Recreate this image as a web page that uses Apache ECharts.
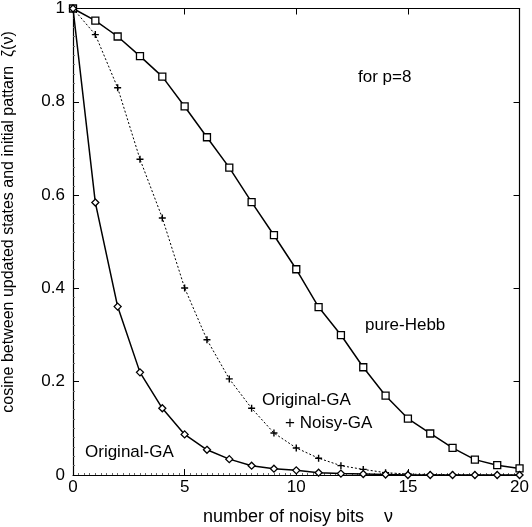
<!DOCTYPE html>
<html><head><meta charset="utf-8">
<script src="https://cdn.jsdelivr.net/npm/echarts@6/dist/echarts.min.js"></script>
<style>html,body{margin:0;padding:0;background:#fff}#c{width:532px;height:527px}</style>
</head><body><div id="c"></div>
<script>
const noisyBits = [0,1,2,3,4,5,6,7,8,9,10,11,12,13,14,15,16,17,18,19,20];
const pureHebb = [1,0.974,0.940,0.898,0.854,0.790,0.724,0.659,0.585,0.514,0.441,0.360,0.300,0.231,0.170,0.121,0.089,0.058,0.033,0.021,0.014];
const noisyGA = [1,0.944,0.830,0.677,0.551,0.401,0.290,0.206,0.143,0.090,0.058,0.036,0.020,0.012,0.005,0.002,0.001,0.001,0,0,0];
const originalGA = [1,0.584,0.361,0.220,0.143,0.087,0.054,0.034,0.020,0.0135,0.010,0.005,0.003,0.002,0.001,0,0,0,0,0,0];
const xTicks = [0,5,10,15,20];
const yTicks = [0,0.2,0.4,0.6,0.8,1];

const FONT = '"Liberation Sans", Arial, Helvetica, sans-serif';
const pair = (ys) => noisyBits.map((x,i)=>[x, ys[i]]);
const chart = echarts.init(document.getElementById('c'), null, {renderer:'canvas'});
const axisCommon = {
  axisLine:{show:true, onZero:false, lineStyle:{color:'#000', width:1.2}},
  axisTick:{show:true, inside:true, length:6, lineStyle:{color:'#000', width:1}},
  splitLine:{show:false}
};
chart.setOption({
  animation:false,
  backgroundColor:'#fff',
  grid:{left:73, right:9, top:8, bottom:52, containLabel:false},
  xAxis:[
    Object.assign({type:'value', min:0, max:20, interval:5, position:'bottom',
      axisLabel:{fontFamily:FONT, fontSize:17, color:'#000', margin:4},
      minorTick:{show:true, splitNumber:20, length:2, lineStyle:{color:'#666'}}
    }, axisCommon),
    Object.assign({type:'value', min:0, max:20, interval:5, position:'top',
      axisLabel:{show:false}}, axisCommon)
  ],
  yAxis:[
    Object.assign({type:'value', min:0, max:1, interval:0.2, position:'left',
      axisLabel:{fontFamily:FONT, fontSize:17, color:'#000', margin:8, padding:[8,0,0,0],
        formatter:(v)=> yTicks.includes(Math.round(v*10)/10) ? String(Math.round(v*10)/10) : ''},
      minorTick:{show:true, splitNumber:10, length:2, lineStyle:{color:'#666'}}
    }, axisCommon),
    Object.assign({type:'value', min:0, max:1, interval:0.2, position:'right',
      axisLabel:{show:false}}, axisCommon)
  ],
  series:[
    {name:'pure-Hebb', type:'line', data:pair(pureHebb), symbol:'rect', symbolSize:7,
      lineStyle:{color:'#000', width:1.5}, itemStyle:{color:'#fff', borderColor:'#000', borderWidth:1.3}, z:3},
    {name:'Noisy-GA', type:'line', data:pair(noisyGA),
      symbol:'path://M4,0H6V4H10V6H6V10H4V6H0V4H4Z', symbolSize:7,
      lineStyle:{color:'#000', width:1, type:[2,2]}, itemStyle:{color:'#000', borderWidth:0}, z:4},
    {name:'Original-GA', type:'line', data:pair(originalGA), symbol:'diamond', symbolSize:7,
      lineStyle:{color:'#000', width:1.5}, itemStyle:{color:'#fff', borderColor:'#000', borderWidth:1.3}, z:5}
  ],
  graphic:[
    {type:'text', x:298, y:517, style:{text:'number of noisy bits    \u03bd', font:'18px '+FONT, fill:'#000', align:'center', verticalAlign:'middle'}},
    {type:'text', x:9, y:222, rotation:Math.PI/2,
      style:{text:'cosine between updated states and initial pattarn  \u03b6(\u03bd)', font:'16px '+FONT, fill:'#000', align:'center', verticalAlign:'middle'}},
    {type:'text', x:358, y:77, style:{text:'for p=8', font:'17px '+FONT, fill:'#000', verticalAlign:'middle'}},
    {type:'text', x:365, y:325, style:{text:'pure-Hebb', font:'17px '+FONT, fill:'#000', verticalAlign:'middle'}},
    {type:'text', x:262, y:400, style:{text:'Original-GA', font:'17px '+FONT, fill:'#000', verticalAlign:'middle'}},
    {type:'text', x:285, y:423, style:{text:'+ Noisy-GA', font:'17px '+FONT, fill:'#000', verticalAlign:'middle'}},
    {type:'text', x:85, y:452, style:{text:'Original-GA', font:'17px '+FONT, fill:'#000', verticalAlign:'middle'}}
  ]
});
</script></body></html>
